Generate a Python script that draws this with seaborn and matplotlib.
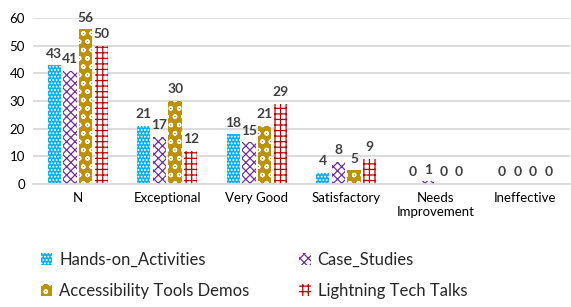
import pandas as pd
import numpy as np
import matplotlib
matplotlib.use('Agg')
import matplotlib.pyplot as plt
import seaborn as sns
from matplotlib.patches import Patch

categories = ['N', 'Exceptional', 'Very Good', 'Satisfactory', 'Needs\nImprovement', 'Ineffective']
series = ['Hands-on_Activities', 'Case_Studies', 'Accessibility Tools Demos', 'Lightning Tech Talks']
hands_on = [43, 21, 18, 4, 0, 0]
case_studies = [41, 17, 15, 8, 1, 0]
access_demos = [56, 30, 21, 5, 0, 0]
lightning = [50, 12, 29, 9, 0, 0]

# face, hatch colour, hatch
styles = {
    'Hands-on_Activities': ('#00B0F0', '#FFFFFF', '.....'),
    'Case_Studies': ('#FFFFFF', '#7030A0', 'xxxx'),
    'Accessibility Tools Demos': ('#BF9000', '#FFFFFF', 'oo'),
    'Lightning Tech Talks': ('#FFFFFF', '#C00000', '+++'),
}

df = pd.DataFrame({
    'category': categories * 4,
    'series': np.repeat(series, len(categories)),
    'value': hands_on + case_studies + access_demos + lightning,
})

sns.set_style('white')
plt.rcParams['font.family'] = ['Lato', 'DejaVu Sans']
plt.rcParams['hatch.linewidth'] = 0.9

fig = plt.figure(figsize=(5.71, 3.07), dpi=100)
ax = fig.add_axes([0.058, 0.401, 0.94, 0.54])

sns.barplot(data=df, x='category', y='value', hue='series', hue_order=series,
            order=categories, width=0.7, gap=0.15, legend=False, ax=ax)

for cont, s in zip(ax.containers, series):
    face, hcol, hatch = styles[s]
    for p in cont:
        p.set_facecolor(face)
        p.set_edgecolor(hcol)
        p.set_hatch(hatch)
        p.set_linewidth(0)
    ax.bar_label(cont, fmt='%d', padding=4, fontsize=10, fontweight='bold', color='#404040')

ax.set_ylim(0, 60)
ax.set_yticks(range(0, 61, 10))
ax.yaxis.grid(True, color='#D9D9D9', linewidth=1.3)
ax.set_axisbelow(True)
for sp in ['left', 'right', 'top']:
    ax.spines[sp].set_visible(False)
ax.spines['bottom'].set_color('#D9D9D9')
ax.spines['bottom'].set_linewidth(1.3)
ax.tick_params(axis='both', length=0, labelsize=9.5, colors='#000000', pad=6)
ax.set_xlabel('')
ax.set_ylabel('')

# legend fills row by row in the reference
order = [0, 2, 1, 3]
handles = [Patch(facecolor=styles[series[i]][0], edgecolor=styles[series[i]][1],
                 hatch=styles[series[i]][2], linewidth=0) for i in order]
labels = [series[i] for i in order]
fig.legend(handles, labels, loc='lower left', bbox_to_anchor=(0.045, -0.022), ncol=2,
           frameon=False, fontsize=12, handlelength=0.7, handleheight=0.7,
           handletextpad=0.4, columnspacing=3.0, labelspacing=0.9)

fig.savefig('out.png', dpi=100)
